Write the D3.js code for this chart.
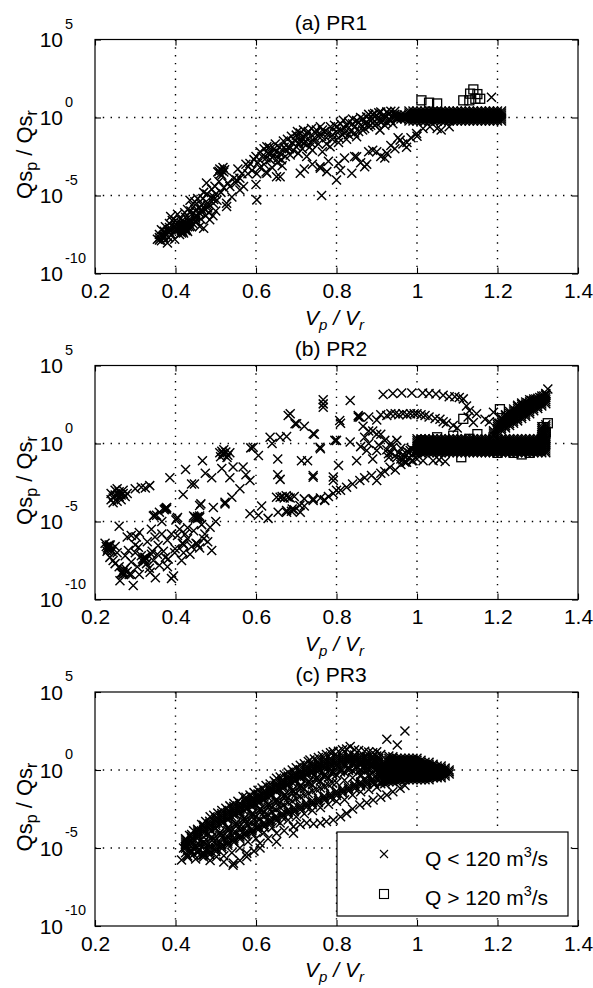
<!DOCTYPE html>
<html><head><meta charset="utf-8">
<script src="https://cdn.jsdelivr.net/npm/d3@7"></script>
<style>body{margin:0;background:#fff}svg{display:block}text{font-family:"Liberation Sans",Arial,sans-serif}</style>
</head><body><svg id="chart" width="593" height="988"></svg>
<script>
// ---------- tick labels / categories ----------
const xTicks=[0.2,0.4,0.6,0.8,1.0,1.2,1.4];
const yTickExps=[-10,-5,0,5];
const titles=["(a) PR1","(b) PR2","(c) PR3"];
const legendLabels=["Q < 120 m","Q > 120 m"];

// ---------- data: [Vp/Vr, log10(Qs_p/Qs_r)] ----------
// (a) PR1, Q < 120 m3/s
const crossA=[
[0.355,-7.8],[0.36,-7.5],[0.365,-7.2],[0.37,-7.6],[0.375,-7.0],[0.38,-8.05],[0.38,-7.3],[0.385,-6.8],[0.388,-6.35],[0.39,-7.5],[0.395,-7.0],[0.40,-6.6],[0.40,-7.3],[0.405,-6.2],[0.41,-6.9],[0.41,-7.5],[0.415,-7.2],[0.415,-6.9],[0.418,-7.0],[0.418,-7.3],[0.42,-7.4],[0.42,-6.7],[0.42,-7.1],[0.422,-6.9],[0.425,-7.1],[0.425,-6.4],[0.427,-7.2],[0.428,-6.8],[0.43,-7.3],[0.43,-7.0],[0.43,-5.9],[0.435,-6.5],[0.436,-5.3],[0.44,-7.0],[0.44,-6.2],[0.445,-5.7],[0.45,-6.7],[0.45,-6.0],[0.455,-5.2],[0.46,-6.98],[0.46,-6.13],[0.465,-5.6],[0.47,-4.8],[0.47,-7.1],[0.475,-6.3],[0.477,-4.2],[0.48,-5.5],[0.485,-6.56],[0.49,-4.6],[0.494,-5.5],[0.50,-4.9],[0.50,-6.0],
[0.365,-7.9],[0.372,-7.3],[0.383,-7.7],[0.392,-6.6],[0.398,-7.8],[0.403,-6.9],[0.408,-7.2],[0.412,-6.5],[0.423,-6.1],[0.433,-6.7],[0.438,-6.0],[0.443,-6.8],[0.448,-5.4],[0.453,-6.3],[0.458,-5.8],[0.463,-6.5],[0.468,-5.2],[0.473,-5.9],[0.478,-4.9],[0.483,-6.1],[0.488,-5.1],[0.493,-6.3],[0.498,-4.4],[0.503,-5.3],[0.508,-4.1],[0.513,-4.8],
[0.505,-3.5],[0.51,-3.3],[0.512,-3.6],[0.515,-3.4],[0.518,-3.2],[0.52,-3.5],[0.515,-3.7],[0.508,-3.45],[0.522,-3.35],
[0.52,-4.5],[0.527,-5.5],[0.527,-5.7],[0.53,-4.2],[0.535,-4.43],[0.54,-5.1],[0.545,-3.9],[0.55,-4.2],[0.552,-4.0],[0.555,-3.3],[0.56,-3.9],[0.56,-4.65],[0.565,-3.6],[0.569,-4.43],[0.575,-3.0],[0.58,-3.6],[0.581,-3.15],[0.585,-2.95],[0.59,-3.4],[0.595,-2.7],[0.60,-4.3],[0.602,-5.28],[0.602,-3.6],[0.605,-2.9],[0.61,-3.2],[0.615,-2.5],[0.62,-3.0],[0.625,-3.5],[0.627,-1.88],[0.627,-3.58],[0.63,-2.3],[0.635,-2.7],[0.64,-3.2],[0.643,-2.5],[0.645,-2.0],[0.65,-2.2],[0.651,-3.8],[0.655,-2.6],[0.66,-2.3],[0.66,-3.8],[0.665,-3.1],[0.67,-1.9],[0.675,-2.1],[0.68,-1.9],[0.685,-2.4],[0.69,-1.6],[0.70,-1.13],[0.70,-1.88],[0.705,-2.3],
[0.6,-2.5],[0.61,-2.2],[0.62,-2.0],[0.625,-2.6],[0.633,-1.9],[0.638,-2.3],[0.648,-1.7],[0.653,-2.9],[0.658,-1.9],[0.663,-2.7],[0.668,-1.5],[0.673,-2.5],[0.678,-1.4],[0.683,-2.0],[0.688,-1.2],[0.693,-2.1],[0.698,-1.5],[0.703,-0.9],[0.708,-1.7],[0.713,-1.3],[0.718,-0.8],[0.723,-1.5],[0.728,-1.0],[0.733,-1.9],[0.738,-0.7],[0.743,-1.5],[0.748,-1.0],
[0.71,-1.0],[0.71,-1.5],[0.715,-2.0],[0.72,-1.66],[0.725,-1.2],[0.726,-2.5],[0.73,-0.9],[0.735,-1.6],[0.74,-2.1],[0.745,-1.3],[0.75,-0.8],[0.755,-1.7],[0.76,-0.6],[0.763,-1.2],[0.765,-2.2],[0.77,-0.9],[0.775,-1.7],[0.78,-1.0],[0.784,-1.88],[0.79,-1.4],[0.795,-0.5],[0.80,-0.9],[0.805,-1.6],[0.81,-0.4],[0.815,-1.1],[0.817,-0.17],[0.82,-0.7],[0.825,-1.4],[0.83,-0.3],[0.835,-0.9],[0.84,-0.1],[0.845,-0.6],[0.85,-1.24],[0.855,-0.3],[0.86,0.0],[0.865,-0.8],[0.87,-0.4],[0.875,0.04],[0.88,-0.6],[0.885,-0.2],[0.89,0.2],[0.895,-0.5],[0.90,-0.1],[0.905,0.3],[0.908,-0.81],[0.91,-0.3],[0.915,0.1],[0.92,-0.5],[0.925,0.36],[0.93,-0.1],[0.935,0.4],[0.94,-0.4],[0.945,0.2],
[0.755,-1.2],[0.765,-0.8],[0.775,-1.3],[0.785,-0.6],[0.79,-1.1],[0.80,-0.6],[0.805,-1.3],[0.81,-0.8],[0.82,-1.0],[0.825,-0.5],[0.83,-1.1],[0.84,-0.4],[0.845,-1.0],[0.85,-0.2],[0.855,-0.9],[0.86,-0.5],[0.865,-0.1],[0.87,-0.7],[0.875,-0.3],[0.88,0.2],[0.885,-0.5],[0.89,-0.1],[0.895,0.25],[0.9,-0.4],[0.905,0.0],[0.91,0.35],[0.915,-0.2],[0.92,0.1],[0.925,-0.3],[0.93,0.2],[0.935,-0.2],[0.94,0.1],[0.945,0.4],[0.95,0.0],
[0.71,-3.58],[0.72,-3.3],[0.74,-3.0],[0.759,-3.15],[0.76,-3.26],[0.763,-5.0],[0.776,-3.47],[0.78,-2.8],[0.80,-4.0],[0.805,-2.95],[0.81,-3.4],[0.82,-2.6],[0.838,-3.58],[0.845,-2.5],[0.85,-2.52],[0.86,-2.9],[0.87,-3.15],[0.875,-3.0],[0.88,-2.2],[0.89,-2.1],[0.90,-2.2],[0.91,-2.5],[0.92,-2.6],[0.925,-2.3],[0.935,-1.8],[0.945,-2.0],[0.953,-1.3],[0.958,-1.45],[0.965,-1.7],[0.974,-1.9],[0.975,-1.6],[0.985,-1.3],[0.999,-1.03],[1.0,-1.2],[1.015,-0.7],[1.032,-0.6],[1.05,-0.7],[1.06,-0.8],[1.08,-0.6],
[1.185,1.3]
];
// saturated columns of (a): [Vp/Vr, log10 values]
const colsA=[
[0.36,[-7.7,-7.85]],[0.37,[-7.55,-7.7]],[0.385,[-7.05,-7.2,-7.35]],[0.4,[-6.85,-7.0,-7.15]],[0.415,[-6.8,-6.95,-7.1,-7.25,-7.4]],[0.425,[-6.8,-6.95,-7.1,-7.25]],[0.435,[-6.7,-6.85,-7.0]],[0.45,[-6.3,-6.45,-6.6]],[0.465,[-5.9,-6.05]],[0.48,[-5.5,-5.65,-5.8]],[0.495,[-5.1,-5.25]]
];
// saturated cluster of (a): rows [log10 value, Vp/Vr values]
const vA_row=[0.98,0.99,1.0,1.01,1.02,1.03,1.04,1.05,1.06,1.07,1.08,1.09,1.1,1.11,1.12,1.13,1.14,1.15,1.16,1.17,1.18,1.19,1.2,1.21];
const vA_rowWide=[0.95,0.96,0.97,0.98,0.99,1.0,1.01,1.02,1.03,1.04,1.05,1.06,1.07,1.08,1.09,1.1,1.11,1.12,1.13,1.14,1.15,1.16,1.17,1.18,1.19,1.2,1.21];
const blobA=[[0.42,vA_row],[0.29,vA_row],[0.16,vA_rowWide],[0.03,vA_rowWide],[-0.1,vA_rowWide],[-0.23,vA_row]];
// (a) PR1, Q > 120 m3/s
const squareA=[[1.011,1.1],[1.03,0.95],[1.05,0.9],[1.115,1.1],[1.13,1.1],[1.132,1.53],[1.14,1.8],[1.145,1.2],[1.157,1.2],[1.15,1.5]];

// (b) PR2, Q < 120 m3/s
const crossB=[
[0.225,-6.4],[0.228,-6.6],[0.23,-6.9],[0.232,-6.8],[0.233,-6.65],[0.235,-6.5],[0.237,-7.3],[0.238,-6.5],[0.24,-6.8],[0.242,-6.9],[0.245,-7.5],[0.25,-7.7],[0.25,-6.6],[0.255,-7.0],[0.26,-7.9],[0.262,-8.8],[0.265,-8.3],[0.27,-8.25],[0.27,-8.4],[0.272,-8.1],[0.275,-8.0],[0.275,-7.2],[0.28,-8.2],[0.28,-6.0],[0.283,-6.86],[0.285,-8.4],[0.29,-7.6],[0.29,-8.4],[0.295,-9.1],[0.30,-6.5],[0.303,-6.0],[0.305,-7.9],[0.308,-6.65],[0.31,-5.7],[0.31,-8.4],[0.315,-7.2],[0.318,-7.4],[0.32,-7.6],[0.324,-7.3],[0.325,-7.5],[0.328,-7.7],[0.33,-6.3],[0.335,-8.0],[0.337,-8.25],[0.34,-5.5],[0.342,-6.9],[0.345,-7.5],[0.349,-6.0],[0.35,-8.6],[0.355,-7.1],[0.357,-6.54],[0.36,-7.8],[0.366,-5.8],[0.366,-5.0],[0.37,-6.9],[0.374,-4.2],[0.375,-7.3],[0.38,-6.2],[0.382,-7.4],[0.39,-5.8],[0.39,-8.65],[0.395,-8.5],[0.398,-7.0],[0.399,-6.75],[0.403,-4.83],[0.405,-5.9],[0.41,-5.5],[0.415,-7.5],[0.419,-6.43],[0.42,-7.0],[0.424,-5.8],[0.43,-6.1],[0.436,-7.1],[0.44,-6.6],[0.445,-5.6],[0.448,-4.72],[0.453,-6.43],[0.455,-4.8],[0.46,-6.7],[0.46,-4.65],[0.465,-5.2],[0.473,-5.8],[0.48,-6.3],[0.486,-5.37],[0.49,-6.86],[0.50,-5.0],
[0.231,-6.7],[0.236,-6.6],[0.268,-8.3],[0.274,-8.35],[0.321,-7.45],[0.327,-7.35],[0.372,-4.25],[0.376,-4.15],[0.401,-4.9],[0.405,-4.75],[0.445,-4.65],[0.45,-4.8],[0.455,-4.7],[0.46,-4.75],[0.417,-6.4],[0.421,-6.5],[0.451,-6.4],[0.456,-6.5],[0.345,-4.65],[0.36,-4.4],[0.26,-5.3],[0.29,-5.9],[0.3,-7.0],[0.34,-7.1],[0.38,-7.9],[0.43,-5.4],[0.47,-6.1],
[0.24,-3.2],[0.245,-3.5],[0.25,-3.0],[0.25,-3.3],[0.255,-3.7],[0.26,-3.1],[0.26,-3.4],[0.265,-3.6],[0.27,-3.2],[0.27,-3.0],[0.275,-3.4],[0.28,-3.2],[0.245,-3.8],[0.255,-2.9],[0.24,-3.6],[0.248,-3.4],[0.258,-3.25],[0.265,-3.3],[0.3,-2.9],[0.315,-2.8],[0.325,-2.85],[0.336,-2.7],
[0.51,-0.6],[0.515,-0.5],[0.52,-0.7],[0.525,-0.55],[0.53,-0.75],[0.52,-0.4],[0.512,-0.85],[0.528,-0.9],[0.535,-0.6],[0.518,-0.62],
[0.386,-2.2],[0.425,-1.67],[0.44,-2.6],[0.467,-1.1],[0.474,-1.9],[0.49,-2.2],[0.515,-1.6],[0.535,-2.2],[0.543,-1.5],[0.568,-1.5],[0.575,-2.0],[0.585,-2.37],[0.587,-0.28],[0.593,-0.24],[0.606,-0.77],[0.635,0.4],[0.64,0.0],[0.654,-1.0],[0.654,-2.0],[0.66,0.4],[0.66,-2.3],[0.676,0.45],[0.68,1.8],[0.685,1.9],[0.697,1.26],[0.701,1.26],[0.713,-1.1],[0.72,1.1],[0.728,-1.1],[0.742,-2.05],[0.742,-2.16],[0.742,0.62],[0.745,0.6],[0.759,-0.24],[0.76,-0.34],[0.767,2.54],[0.767,2.33],[0.767,2.8],[0.792,-2.15],[0.792,-2.37],[0.796,0.2],[0.805,-1.41],[0.808,1.47],[0.81,1.3],[0.834,2.75],
[0.347,-4.6],[0.353,-4.6],[0.378,-4.1],[0.378,-4.2],[0.419,-3.27],[0.447,-2.6],[0.46,-3.97],[0.463,-3.87],[0.494,-4.1],[0.523,-3.87],[0.523,-3.76],[0.54,-3.44],[0.56,-2.9],[0.585,-4.5],[0.606,-4.6],[0.614,-4.0],[0.63,-4.8],[0.651,-3.44],[0.655,-4.4],[0.66,-3.44],[0.665,-3.4],[0.67,-3.5],[0.675,-3.35],[0.676,-4.4],[0.676,-4.3],[0.68,-3.44],[0.685,-3.5],[0.688,-4.35],[0.69,-4.2],[0.695,-3.4],[0.695,-4.25],[0.709,-3.97],[0.72,-3.55],[0.742,-3.55],[0.771,-3.65],[0.77,-3.6],
[0.71,-4.4],[0.72,-4.0],[0.742,-3.65],[0.76,-3.5],[0.78,-3.4],[0.792,-3.2],[0.80,-3.0],[0.81,-3.0],[0.825,-2.8],[0.84,-2.6],[0.858,-2.37],[0.87,-2.2],[0.887,-2.05],[0.9,-2.37],[0.91,-1.9],[0.92,-1.8],[0.933,-1.52],[0.946,-1.7],[0.96,-1.35],[0.974,-1.2],[0.987,-1.1],[1.0,-1.0],[1.015,-1.1],[1.04,-1.1],[1.055,-1.05],[1.07,-1.15],
[0.80,0.2],[0.834,0.1],[0.85,-1.1],[0.854,1.7],[0.858,1.69],[0.86,-0.2],[0.866,1.1],[0.87,0.4],[0.875,-0.45],[0.88,0.0],[0.88,0.8],[0.89,-1.0],[0.89,0.8],[0.9,-0.45],[0.9,0.6],[0.905,-0.1],[0.91,0.6],[0.92,0.2],[0.925,-0.4],[0.929,-0.66],[0.93,-0.9],[0.935,0.0],[0.935,-0.6],[0.94,-0.25],[0.945,-0.8],[0.95,0.2],[0.95,-0.9],[0.96,-0.3],[0.96,-1.0],[0.965,-0.7],[0.97,-1.2],[0.975,-0.5],[0.98,-0.9],[0.983,-0.45],[0.985,-0.3],[0.99,-1.1],[0.995,-0.6],[0.955,-0.6],[0.97,-0.85],[0.98,-0.6],[0.965,-1.05],
[0.916,3.14],[0.94,3.2],[0.962,3.24],[0.987,3.24],[1.014,3.24],[1.03,3.2],[1.047,3.17],[1.065,3.1],[1.08,3.0],[1.094,3.0],[1.105,2.95],[1.115,2.86],[1.123,2.4],[1.13,2.1],
[0.854,1.8],[0.88,1.7],[0.9,1.5],[0.91,1.85],[0.925,1.8],[0.935,1.9],[0.946,1.9],[0.955,1.85],[0.965,1.9],[0.975,1.85],[0.984,1.9],[0.993,1.9],[1.0,1.9],[1.01,1.85],[1.02,1.8],[1.03,1.7],[1.045,1.6],[1.057,1.55],[1.065,1.4],[1.073,1.3],[1.09,1.15],[1.1,1.0],[1.127,1.7],[1.14,1.35],[1.148,1.9],[1.169,1.55],[1.18,1.4],[1.19,2.0],
[1.205,1.3],[1.215,1.5],[1.235,1.9],[1.245,2.1],[1.255,2.3],[1.265,2.45],[1.275,2.6],[1.285,2.75],[1.295,2.85],[1.305,2.95],[1.315,3.05],[1.32,3.2],[1.325,3.5]
];
// saturated columns of (b): arm and right lobe
const colsB=[
[1.19,[0.55,0.68,0.81]],
[1.2,[0.7,0.83,0.96,1.09,1.22,1.35]],
[1.21,[0.85,0.98,1.11,1.24,1.37,1.5,1.6]],
[1.22,[1.0,1.13,1.26,1.39,1.52,1.65,1.78,1.85]],
[1.23,[1.15,1.28,1.41,1.54,1.67,1.8,1.93,2.05]],
[1.24,[1.3,1.43,1.56,1.69,1.82,1.95,2.08,2.21]],
[1.25,[1.45,1.58,1.71,1.84,1.97,2.1,2.23,2.36,2.45]],
[1.26,[1.6,1.73,1.86,1.99,2.12,2.25,2.38,2.51,2.6]],
[1.27,[1.75,1.88,2.01,2.14,2.27,2.4,2.53,2.66]],
[1.28,[1.9,2.03,2.16,2.29,2.42,2.55,2.68,2.8]],
[1.29,[2.1,2.23,2.36,2.49,2.62,2.75,2.85]],
[1.3,[2.25,2.38,2.51,2.64,2.77,2.9]],
[1.31,[2.4,2.53,2.66,2.79,2.92,3.05]],
[1.32,[2.55,2.68,2.81,2.94,3.07,3.15]],
[1.31,[0.3,0.43,0.56,0.69,0.82,0.95,1.08]],
[1.32,[0.3,0.43,0.56,0.69,0.82,0.95,1.08,1.2]]
];
const vB_row=[1.0,1.01,1.02,1.03,1.04,1.05,1.06,1.07,1.08,1.09,1.1,1.11,1.12,1.13,1.14,1.15,1.16,1.17,1.18,1.19,1.2,1.21,1.22,1.23,1.24,1.25,1.26,1.27,1.28,1.29,1.3,1.31,1.32];
const blobB=[[0.3,vB_row],[0.17,vB_row],[0.04,vB_row],[-0.09,vB_row],[-0.22,vB_row],[-0.35,vB_row],[-0.48,vB_row],[-0.6,vB_row]];
// (b) PR2, Q > 120 m3/s
const squareB=[[0.995,-0.5],[1.01,0.2],[1.03,-0.2],[1.05,0.4],[1.07,-0.3],[1.09,0.5],[1.11,-0.88],[1.115,1.58],[1.13,0.3],[1.15,0.6],[1.17,-0.2],[1.19,0.4],[1.2,-0.6],[1.206,2.2],[1.22,0.1],[1.24,-0.6],[1.26,0.0],[1.26,-0.7],[1.28,-0.6],[1.3,-0.4],[1.31,0.3],[1.314,1.05],[1.32,0.7],[1.325,1.3]];

// (c) PR3, Q < 120 m3/s
const crossC=[
[0.42,-5.0],[0.425,-5.3],[0.43,-4.7],[0.425,-4.9],[0.435,-5.2],[0.44,-4.9],[0.445,-5.4],[0.455,-5.3],[0.46,-4.8],[0.465,-5.5],[0.475,-5.1],[0.43,-5.6],
[0.425,-4.4],[0.435,-4.2],[0.445,-3.9],[0.455,-3.8],[0.465,-3.5],[0.475,-3.3],[0.486,-3.0],[0.495,-2.9],[0.505,-2.75],[0.515,-2.6],[0.525,-2.45],[0.535,-2.3],[0.545,-2.15],[0.555,-2.0],[0.568,-1.7],[0.575,-1.75],[0.585,-1.6],[0.595,-1.45],[0.605,-1.3],[0.615,-1.15],[0.625,-1.0],[0.635,-0.9],[0.645,-0.7],[0.651,-0.53],[0.66,-0.45],[0.67,-0.3],[0.68,-0.15],[0.69,0.0],[0.70,0.15],[0.71,0.3],[0.72,0.4],[0.73,0.55],[0.734,0.64],[0.745,0.7],[0.755,0.8],[0.765,0.9],[0.775,1.0],[0.785,1.1],[0.792,1.17],[0.805,1.2],[0.815,1.3],[0.825,1.35],[0.834,1.5],[0.845,1.3],[0.855,1.25],[0.87,1.2],[0.88,1.15],[0.89,1.1],[0.9,1.17],[0.91,1.0],[0.93,0.9],[0.94,0.85],
[0.46,-4.55],[0.47,-4.3],[0.48,-4.1],[0.49,-3.9],[0.5,-3.75],[0.51,-3.5],[0.52,-3.35],[0.53,-3.2],[0.54,-3.0],[0.55,-2.85],[0.56,-2.75],[0.57,-2.6],[0.58,-2.45],[0.59,-2.35],[0.6,-2.2],[0.61,-2.05],[0.62,-1.9],[0.63,-1.75],[0.64,-1.6],[0.65,-1.4],[0.66,-1.25],[0.67,-1.1],[0.68,-0.95],[0.69,-0.8],[0.7,-0.65],[0.71,-0.5],[0.72,-0.4],[0.73,-0.25],[0.74,-0.15],[0.75,-0.05],[0.76,0.05],[0.77,0.1],[0.78,0.2],[0.79,0.25],[0.8,0.3],[0.82,0.4],[0.84,0.45],[0.86,0.45],[0.88,0.5],[0.9,0.5],
[0.44,-5.2],[0.45,-4.9],[0.46,-5.1],[0.47,-4.6],[0.48,-4.8],[0.49,-4.3],[0.5,-4.5],[0.51,-4.0],[0.52,-4.2],[0.53,-3.7],[0.54,-3.9],[0.55,-3.4],[0.56,-3.6],[0.57,-3.1],[0.58,-3.3],[0.59,-2.8],[0.6,-3.0],[0.61,-2.5],[0.62,-2.7],[0.63,-2.2],[0.64,-2.4],[0.65,-1.9],[0.66,-2.1],[0.67,-1.6],[0.68,-1.8],[0.69,-1.3],[0.7,-1.5],[0.71,-1.0],[0.72,-1.2],[0.73,-0.75],[0.74,-0.95],[0.75,-0.5],[0.76,-0.7],[0.77,-0.3],[0.78,-0.5],[0.79,-0.1],[0.8,-0.3],[0.81,0.05],[0.82,-0.15],[0.83,0.15],[0.84,-0.05],[0.85,0.25],[0.86,0.0],[0.87,0.3],[0.88,0.05],[0.89,0.3],[0.9,0.1],
[0.48,-5.05],[0.49,-4.9],[0.5,-4.75],[0.51,-4.6],[0.52,-4.45],[0.53,-4.3],[0.54,-4.15],[0.55,-4.0],[0.56,-3.85],[0.57,-3.7],[0.58,-3.55],[0.59,-3.4],[0.6,-3.3],[0.61,-3.15],[0.62,-3.0],[0.63,-2.85],[0.64,-2.7],[0.65,-2.55],[0.66,-2.4],[0.67,-2.25],[0.68,-2.1],[0.69,-2.0],[0.7,-1.85],[0.71,-1.7],[0.72,-1.6],[0.73,-1.5],[0.74,-1.35],[0.75,-1.25],[0.76,-1.15],[0.77,-1.05],[0.78,-0.95],[0.79,-0.85],[0.8,-0.8],[0.82,-0.65],[0.84,-0.5],[0.86,-0.4],[0.88,-0.3],[0.9,-0.3],
[0.52,-5.5],[0.54,-5.3],[0.56,-5.0],[0.58,-4.6],[0.6,-4.4],[0.62,-4.0],[0.64,-3.7],[0.66,-3.4],[0.68,-3.2],[0.7,-3.0],[0.72,-2.8],[0.74,-2.6],[0.76,-2.4],[0.78,-2.2],[0.8,-2.0],[0.82,-1.9],[0.84,-1.6],[0.86,-1.4],[0.88,-1.25],[0.9,-1.1],
[0.415,-5.77],[0.43,-5.5],[0.45,-5.7],[0.47,-5.4],[0.486,-5.8],[0.502,-5.56],[0.52,-5.9],[0.543,-6.1],[0.544,-5.98],[0.56,-5.8],[0.577,-5.56],[0.577,-5.34],[0.595,-5.2],[0.61,-5.0],[0.61,-4.7],[0.63,-4.4],[0.651,-4.6],[0.651,-4.06],[0.67,-3.9],[0.693,-4.06],[0.693,-3.63],[0.71,-3.5],[0.726,-3.4],[0.743,-3.45],[0.76,-3.4],[0.775,-3.3],[0.792,-3.2],[0.81,-3.0],[0.825,-2.78],[0.84,-2.5],[0.858,-2.24],[0.875,-2.1],[0.891,-1.92],[0.91,-1.75],[0.925,-1.6],[0.94,-1.4],[0.958,-1.17],[0.97,-1.0],
[0.86,0.4],[0.87,0.0],[0.875,0.5],[0.88,-0.4],[0.885,0.3],[0.89,-0.2],[0.895,0.6],[0.9,-0.6],[0.895,-0.9],[0.9,0.9],[0.86,-0.3],[0.87,0.8],
[0.925,1.97],[0.951,1.6],[0.97,2.5]
];
// saturated columns of (c): upper dark band, middle band, lower dark band
const colsC=[
[0.425,[-4.49,-4.62,-4.75,-4.88,-5.01]],[0.44,[-4.14,-4.27,-4.4,-4.53,-4.66]],[0.455,[-3.84,-3.97,-4.1,-4.23,-4.36]],[0.47,[-3.54,-3.67,-3.8,-3.93,-4.06]],[0.485,[-3.29,-3.42,-3.55,-3.68,-3.81]],[0.5,[-3.04,-3.17,-3.3,-3.43,-3.56]],[0.515,[-2.79,-2.92,-3.05,-3.18,-3.31]],[0.53,[-2.59,-2.72,-2.85,-2.98,-3.11]],[0.545,[-2.34,-2.47,-2.6,-2.73,-2.86]],[0.56,[-2.14,-2.27,-2.4,-2.53,-2.66]],[0.575,[-1.94,-2.07,-2.2,-2.33,-2.46]],[0.59,[-1.74,-1.87,-2.0,-2.13,-2.26]],[0.605,[-1.54,-1.67,-1.8,-1.93,-2.06]],[0.62,[-1.34,-1.47,-1.6,-1.73,-1.86]],[0.635,[-1.09,-1.22,-1.35,-1.48,-1.61]],[0.65,[-0.84,-0.97,-1.1,-1.23,-1.36]],[0.665,[-0.64,-0.77,-0.9,-1.03,-1.16]],[0.68,[-0.39,-0.52,-0.65,-0.78,-0.91]],[0.695,[-0.19,-0.32,-0.45,-0.58,-0.71]],[0.71,[0.01,-0.12,-0.25,-0.38,-0.51]],[0.725,[0.21,0.08,-0.05,-0.18,-0.31]],[0.74,[0.36,0.23,0.1,-0.03,-0.16]],[0.755,[0.51,0.38,0.25,0.12,-0.01]],[0.77,[0.66,0.53,0.4,0.27,0.14]],[0.785,[0.76,0.63,0.5,0.37,0.24]],[0.8,[0.86,0.73,0.6,0.47,0.34]],[0.815,[0.91,0.78,0.65,0.52,0.39]],[0.83,[0.96,0.83,0.7,0.57,0.44]],[0.845,[0.96,0.83,0.7,0.57,0.44]],[0.86,[0.91,0.78,0.65,0.52,0.39]],[0.875,[0.86,0.73,0.6,0.47,0.34]],[0.89,[0.81,0.68,0.55,0.42,0.29]],[0.905,[0.76,0.63,0.5,0.37,0.24]],
[0.45,[-4.9,-5.03]],[0.47,[-4.65,-4.78]],[0.49,[-4.35,-4.48]],[0.51,[-4.05,-4.18]],[0.53,[-3.75,-3.88]],[0.55,[-3.45,-3.58]],[0.57,[-3.15,-3.28]],[0.59,[-2.85,-2.98]],[0.61,[-2.55,-2.68]],[0.63,[-2.25,-2.38]],[0.65,[-1.95,-2.08]],[0.67,[-1.65,-1.78]],[0.69,[-1.35,-1.48]],[0.71,[-1.05,-1.18]],[0.73,[-0.8,-0.93]],[0.75,[-0.55,-0.68]],[0.77,[-0.35,-0.48]],[0.79,[-0.15,-0.28]],[0.81,[0.0,-0.13]],[0.83,[0.1,-0.03]],[0.85,[0.2,0.07]],[0.87,[0.25,0.12]],[0.89,[0.25,0.12]],
[0.47,[-5.32,-5.45,-5.58]],[0.485,[-5.17,-5.3,-5.43]],[0.5,[-4.97,-5.1,-5.23]],[0.515,[-4.77,-4.9,-5.03]],[0.53,[-4.57,-4.7,-4.83]],[0.545,[-4.37,-4.5,-4.63]],[0.56,[-4.17,-4.3,-4.43]],[0.575,[-3.97,-4.1,-4.23]],[0.59,[-3.77,-3.9,-4.03]],[0.605,[-3.57,-3.7,-3.83]],[0.62,[-3.37,-3.5,-3.63]],[0.635,[-3.17,-3.3,-3.43]],[0.65,[-2.97,-3.1,-3.23]],[0.665,[-2.77,-2.9,-3.03]],[0.68,[-2.57,-2.7,-2.83]],[0.695,[-2.42,-2.55,-2.68]],[0.71,[-2.27,-2.4,-2.53]],[0.725,[-2.12,-2.25,-2.38]],[0.74,[-1.97,-2.1,-2.23]],[0.755,[-1.82,-1.95,-2.08]],[0.77,[-1.67,-1.8,-1.93]],[0.785,[-1.52,-1.65,-1.78]],[0.8,[-1.37,-1.5,-1.63]],[0.815,[-1.22,-1.35,-1.48]],[0.83,[-1.07,-1.2,-1.33]],[0.845,[-0.92,-1.05,-1.18]],[0.86,[-0.77,-0.9,-1.03]],[0.875,[-0.67,-0.8,-0.93]],[0.89,[-0.57,-0.7,-0.83]]
];
const blobC=[
[0.75,[0.93,0.94,0.95,0.96,0.97,0.98,0.99,1.0]],
[0.62,[0.93,0.94,0.95,0.96,0.97,0.98,0.99,1.0,1.01]],
[0.5,[0.92,0.93,0.94,0.95,0.96,0.97,0.98,0.99,1.0,1.01,1.02,1.03]],
[0.37,[0.92,0.93,0.94,0.95,0.96,0.97,0.98,0.99,1.0,1.01,1.02,1.03,1.04]],
[0.25,[0.91,0.92,0.93,0.94,0.95,0.96,0.97,0.98,0.99,1.0,1.01,1.02,1.03,1.04,1.05,1.06]],
[0.12,[0.91,0.92,0.93,0.94,0.95,0.96,0.97,0.98,0.99,1.0,1.01,1.02,1.03,1.04,1.05,1.06,1.07]],
[0.0,[0.91,0.92,0.93,0.94,0.95,0.96,0.97,0.98,0.99,1.0,1.01,1.02,1.03,1.04,1.05,1.06,1.07,1.08]],
[-0.12,[0.91,0.92,0.93,0.94,0.95,0.96,0.97,0.98,0.99,1.0,1.01,1.02,1.03,1.04,1.05,1.06,1.07,1.08]],
[-0.25,[0.91,0.92,0.93,0.94,0.95,0.96,0.97,0.98,0.99,1.0,1.01,1.02,1.03,1.04,1.05,1.06,1.07,1.08]],
[-0.38,[0.91,0.92,0.93,0.94,0.95,0.96,0.97,0.98,0.99,1.0,1.01,1.02,1.03,1.04,1.05,1.06,1.07]],
[-0.5,[0.91,0.92,0.93,0.94,0.95,0.96,0.97,0.98,0.99,1.0,1.01,1.02,1.03,1.04,1.05,1.06]],
[-0.62,[0.92,0.93,0.94,0.95,0.96,0.97,0.98,0.99,1.0,1.01,1.02,1.03]],
[-0.75,[0.91,0.92,0.93,0.94,0.95]],
[-0.88,[0.91,0.92]]
];
const squareC=[];

// ---------- build tables ----------
const rows2pts=rows=>rows.flatMap(([e,vs])=>vs.map(v=>[v,e]));
const cols2pts=cols=>cols.flatMap(([v,es])=>es.map(e=>[v,e]));
const panels=[
 {title:titles[0],cross:crossA.concat(cols2pts(colsA),rows2pts(blobA)),square:squareA},
 {title:titles[1],cross:crossB.concat(cols2pts(colsB),rows2pts(blobB)),square:squareB},
 {title:titles[2],cross:crossC.concat(cols2pts(colsC),rows2pts(blobC)),square:squareC}
];

// ---------- drawing ----------
const svg=d3.select("#chart");
const X0=95,X1=578,PH=234,tops=[39.5,365.5,692];
const FS=21;
const x=d3.scaleLinear().domain([0.2,1.4]).range([X0,X1]);
const crossPath="M-4.5,-4.5L4.5,4.5M-4.5,4.5L4.5,-4.5";
const defs=svg.append("defs");

panels.forEach((p,i)=>{
  const t=tops[i],b=t+PH;
  const y=d3.scaleLog().domain([1e-10,1e5]).range([b,t]);
  const g=svg.append("g");
  defs.append("clipPath").attr("id","clip"+i).append("rect").attr("x",X0).attr("y",t).attr("width",X1-X0).attr("height",PH);

  // grid
  g.append("g").selectAll("line").data(xTicks.slice(1,-1)).join("line")
    .attr("x1",d=>x(d)).attr("x2",d=>x(d)).attr("y1",t).attr("y2",b)
    .attr("stroke","#000").attr("stroke-width",1.4).attr("stroke-dasharray","1.4,6.4");
  g.append("g").selectAll("line").data(yTickExps.slice(1,-1)).join("line")
    .attr("x1",X0).attr("x2",X1).attr("y1",d=>y(10**d)).attr("y2",d=>y(10**d))
    .attr("stroke","#000").attr("stroke-width",1.4).attr("stroke-dasharray","1.4,6.4");

  // marks
  const m=g.append("g").attr("clip-path",`url(#clip${i})`);
  m.selectAll("path.cx").data(p.cross).join("path").attr("class","cx")
    .attr("d",crossPath).attr("transform",d=>`translate(${x(d[0])},${y(10**d[1])})`)
    .attr("fill","none").attr("stroke","#000").attr("stroke-width",1.45);
  m.selectAll("rect.sq").data(p.square).join("rect").attr("class","sq")
    .attr("x",d=>x(d[0])-4.5).attr("y",d=>y(10**d[1])-4.5).attr("width",9).attr("height",9)
    .attr("fill","none").attr("stroke","#000").attr("stroke-width",1.3);

  // axes (ticks inside)
  const style=a=>{a.select(".domain").remove();a.attr("font-family","Liberation Sans, Arial, sans-serif").attr("font-size",FS);a.selectAll("line").attr("stroke-width",1.1);};
  g.append("g").attr("transform",`translate(0,${b})`)
    .call(d3.axisBottom(x).tickValues(xTicks).tickSize(-6).tickPadding(10).tickFormat(d=>String(d))).call(style);
  g.append("g").attr("transform",`translate(0,${t})`)
    .call(d3.axisTop(x).tickValues(xTicks).tickSize(-6).tickFormat("")).call(style);
  const yv=yTickExps.map(e=>10**e);
  g.append("g").attr("transform",`translate(${X0},0)`)
    .call(d3.axisLeft(y).tickValues(yv).tickSize(-6).tickFormat("")).call(style);
  g.append("g").attr("transform",`translate(${X1},0)`)
    .call(d3.axisRight(y).tickValues(yv).tickSize(-6).tickFormat("")).call(style);

  // y tick labels 10^e
  const yl=g.append("g");
  yTickExps.forEach(e=>{
    const yy=y(10**e);
    yl.append("text").attr("x",63).attr("y",yy+7.5).attr("text-anchor","end").attr("font-size",FS).text("10");
    yl.append("text").attr("x",65).attr("y",yy-11).attr("font-size",14.5).text(String(e));
  });

  // box
  g.append("rect").attr("x",X0).attr("y",t).attr("width",X1-X0).attr("height",PH)
    .attr("fill","none").attr("stroke","#000").attr("stroke-width",1.2);

  // title
  g.append("text").attr("x",331).attr("y",t-10).attr("text-anchor","middle").attr("font-size",FS).text(p.title);

  // x label
  const xl=g.append("text").attr("x",(X0+X1)/2-2).attr("y",b+51).attr("text-anchor","middle")
    .attr("font-size",FS).attr("font-style","italic");
  xl.append("tspan").text("V");
  xl.append("tspan").attr("dy",5).attr("font-size",15).text("p");
  xl.append("tspan").attr("dy",-5).text(" / V");
  xl.append("tspan").attr("dy",5).attr("font-size",15).text("r");

  // y label
  const ylab=g.append("text").attr("transform",`translate(32,${(t+b)/2-2}) rotate(-90)`)
    .attr("text-anchor","middle").attr("font-size",22);
  ylab.append("tspan").text("Qs");
  ylab.append("tspan").attr("dy",5).attr("font-size",16).text("p");
  ylab.append("tspan").attr("dy",-5).text(" / Qs");
  ylab.append("tspan").attr("dy",5).attr("font-size",16).text("r");

  // legend (panel c)
  if(i===2){
    const lg=g.append("g");
    lg.append("rect").attr("x",337).attr("y",832).attr("width",231).attr("height",84)
      .attr("fill","#fff").attr("stroke","#000").attr("stroke-width",1.2);
    lg.append("path").attr("d","M-4,-4L4,4M-4,4L4,-4").attr("transform","translate(384,854)")
      .attr("fill","none").attr("stroke","#000").attr("stroke-width",1.1);
    lg.append("rect").attr("x",384-4.5).attr("y",894-4.5).attr("width",9).attr("height",9)
      .attr("fill","none").attr("stroke","#000").attr("stroke-width",1.1);
    [[866,legendLabels[0]],[905,legendLabels[1]]].forEach(([yy,lab])=>{
      const tx=lg.append("text").attr("x",425).attr("y",yy).attr("font-size",FS);
      tx.append("tspan").text(lab);
      tx.append("tspan").attr("dy",-9).attr("font-size",14.5).text("3");
      tx.append("tspan").attr("dy",9).text("/s");
    });
  }
});
</script></body></html>
